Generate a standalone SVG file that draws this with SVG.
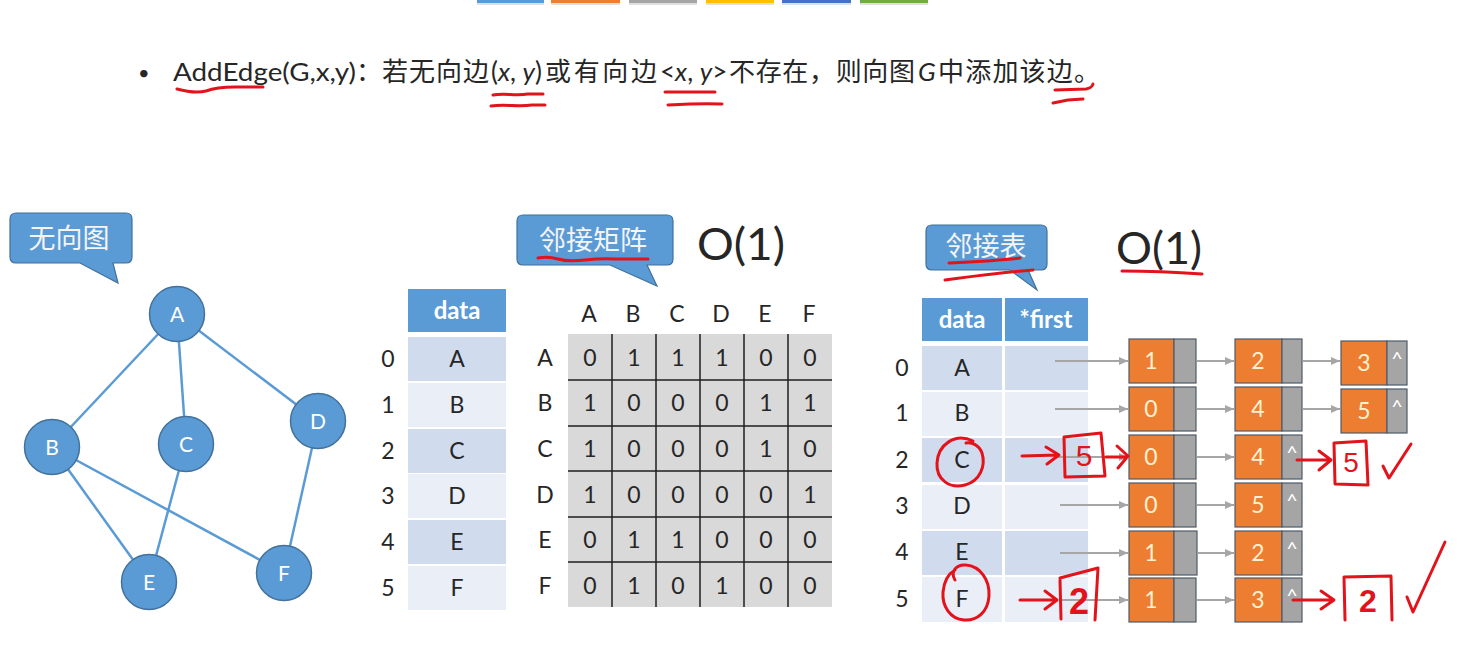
<svg xmlns="http://www.w3.org/2000/svg" width="1467" height="660" viewBox="0 0 1467 660">
  <defs>
    <style>
      .lat { font-family: Lato, "Liberation Sans", "Noto Sans CJK SC", sans-serif; fill: #262626; }
      .cjk { font-family: "Noto Sans CJK SC", "Noto Sans", sans-serif; fill: #262626; }
      .it { font-style: italic; }
      .callout { fill: #5b9bd5; stroke: #41719c; stroke-width: 1.2; }
      .ctext { font-family: "Noto Sans CJK SC", sans-serif; fill: #f4f4f4; font-size: 27px; text-anchor: middle; }
      .gnode circle { fill: #5b9bd5; stroke: #41719c; stroke-width: 1.5; }
      .gnode text { font-family: Lato, "Liberation Sans", sans-serif; fill: #ffffff; font-size: 21px; text-anchor: middle; }
      .edge { stroke: #5b9bd5; stroke-width: 2.5; fill: none; }
      .hdr { fill: #5b9bd5; }
      .hdrtext { font-family: Lato, "Liberation Sans", sans-serif; font-weight: bold; fill: #ffffff; font-size: 24px; text-anchor: middle; }
      .rowA { fill: #d0dcee; }
      .rowB { fill: #e9eef7; }
      .c { text-anchor: middle; font-size: 23px; }
      .grid { stroke: #1e1e1e; stroke-width: 1.5; }
      .ptr { stroke: #a6a6a6; stroke-width: 2; fill: none; marker-end: url(#gh); }
      .val { fill: #ed7d31; stroke: #4d5b6b; stroke-width: 1.2; }
      .nxt { fill: #a5a5a5; stroke: #4d5b6b; stroke-width: 1.2; }
      .ntext { font-family: Lato, "Liberation Sans", sans-serif; fill: #fff2d0; font-size: 23px; text-anchor: middle; }
      .caret { font-family: Lato, "Liberation Sans", sans-serif; fill: #ffffff; font-size: 20px; text-anchor: middle; }
      .ink { fill: none; stroke: #e3131b; stroke-width: 3; stroke-linecap: round; stroke-linejoin: round; }
      .inktext { font-family: "Liberation Sans", sans-serif; fill: #e3131b; text-anchor: middle; }
      .heavy { font-weight: bold; }
    </style>
    <marker id="gh" markerUnits="userSpaceOnUse" markerWidth="10" markerHeight="10" refX="9" refY="5" orient="auto">
      <path d="M0,1 L9,5 L0,9 Z" fill="#a6a6a6"/>
    </marker>
  </defs>

  <rect width="1467" height="660" fill="#ffffff"/>

  <!-- colour tabs along the top edge -->
  <g id="tabs">
    <rect x="477" y="1" width="67" height="4" fill="#000" opacity="0.12"/>
    <rect x="477" y="-2" width="67" height="5" fill="#5b9bd5"/>
    <rect x="551" y="1" width="69" height="4" fill="#000" opacity="0.12"/>
    <rect x="551" y="-2" width="69" height="5" fill="#ed7d31"/>
    <rect x="629" y="1" width="68" height="4" fill="#000" opacity="0.12"/>
    <rect x="629" y="-2" width="68" height="5" fill="#a5a5a5"/>
    <rect x="706" y="1" width="68" height="4" fill="#000" opacity="0.12"/>
    <rect x="706" y="-2" width="68" height="5" fill="#ffc000"/>
    <rect x="782" y="1" width="69" height="4" fill="#000" opacity="0.12"/>
    <rect x="782" y="-2" width="69" height="5" fill="#4472c4"/>
    <rect x="860" y="1" width="68" height="4" fill="#000" opacity="0.12"/>
    <rect x="860" y="-2" width="68" height="5" fill="#70ad47"/>
  </g>

  <!-- bullet line -->
  <g id="heading" font-size="26">
    <text class="lat" x="138" y="80" font-size="20">•</text>
    <text class="lat" x="173" y="81" font-size="25" textLength="183" lengthAdjust="spacingAndGlyphs">AddEdge(G,x,y)</text>
    <text class="cjk" x="356" y="81">：<tspan letter-spacing="1">若无向边</tspan></text>
    <text class="lat" x="491" y="81">(<tspan class="it">x</tspan>, <tspan class="it">y</tspan>)</text>
    <text class="cjk" x="545" y="81" textLength="112" lengthAdjust="spacing">或有向边</text>
    <text class="lat" x="660" y="81">&lt;<tspan class="it">x</tspan>, <tspan class="it">y</tspan>&gt;</text>
    <text class="cjk" x="729" y="81" textLength="186" lengthAdjust="spacing">不存在，则向图</text>
    <text class="lat it" x="918" y="81">G</text>
    <text class="cjk" x="938" y="81" textLength="162" lengthAdjust="spacing">中添加该边。</text>
  </g>

  <!-- undirected graph -->
  <g id="label-graph">
    <path class="callout" d="M16,213 H126 Q132,213 132,219 V257 Q132,263 126,263 H113 L118,283 L80,263 H16 Q10,263 10,257 V219 Q10,213 16,213 Z"/>
    <text class="ctext" x="69" y="248">无向图</text>
  </g>
  <g id="edges">
    <line class="edge" x1="177" y1="314" x2="52" y2="447"/>
    <line class="edge" x1="177" y1="314" x2="186" y2="444"/>
    <line class="edge" x1="177" y1="314" x2="318" y2="421"/>
    <line class="edge" x1="52" y1="447" x2="149" y2="582"/>
    <line class="edge" x1="52" y1="447" x2="284" y2="573"/>
    <line class="edge" x1="186" y1="444" x2="149" y2="582"/>
    <line class="edge" x1="318" y1="421" x2="284" y2="573"/>
  </g>
  <g id="node-A" class="gnode"><circle cx="177" cy="314" r="27.5"/><text x="177" y="322">A</text></g>
  <g id="node-B" class="gnode"><circle cx="52" cy="447" r="27.5"/><text x="52" y="455">B</text></g>
  <g id="node-C" class="gnode"><circle cx="186" cy="444" r="27.5"/><text x="186" y="452">C</text></g>
  <g id="node-D" class="gnode"><circle cx="318" cy="421" r="27.5"/><text x="318" y="429">D</text></g>
  <g id="node-E" class="gnode"><circle cx="149" cy="582" r="27.5"/><text x="149" y="590">E</text></g>
  <g id="node-F" class="gnode"><circle cx="284" cy="573" r="27.5"/><text x="284" y="581">F</text></g>

  <!-- adjacency matrix -->
  <g id="label-matrix">
    <path class="callout" d="M523,215 H667 Q673,215 673,221 V259 Q673,265 667,265 H647 L657,286 L610,265 H523 Q517,265 517,259 V221 Q517,215 523,215 Z"/>
    <text class="ctext" x="593" y="250">邻接矩阵</text>
    <text class="lat" x="697" y="260" font-size="45" textLength="88" lengthAdjust="spacingAndGlyphs">O(1)</text>
  </g>

  <g id="vertex-table">
    <rect class="hdr" x="408" y="289" width="98" height="43"/>
    <text class="hdrtext" x="457" y="319">data</text>
    <rect class="rowA" x="408" y="337" width="98" height="44"/>
    <rect class="rowB" x="408" y="383" width="98" height="44"/>
    <rect class="rowA" x="408" y="429" width="98" height="44"/>
    <rect class="rowB" x="408" y="474" width="98" height="44"/>
    <rect class="rowA" x="408" y="520" width="98" height="44"/>
    <rect class="rowB" x="408" y="566" width="98" height="44"/>
    <g class="lat c">
      <text x="457" y="367">A</text><text x="457" y="413">B</text><text x="457" y="459">C</text>
      <text x="457" y="504">D</text><text x="457" y="550">E</text><text x="457" y="596">F</text>
      <text x="388" y="367">0</text><text x="388" y="413">1</text><text x="388" y="459">2</text>
      <text x="388" y="504">3</text><text x="388" y="550">4</text><text x="388" y="596">5</text>
    </g>
  </g>

  <g id="matrix">
    <rect x="568" y="334" width="264" height="273" fill="#d9d9d9"/>
    <g class="grid">
      <line x1="612" y1="334" x2="612" y2="607"/><line x1="656" y1="334" x2="656" y2="607"/>
      <line x1="700" y1="334" x2="700" y2="607"/><line x1="744" y1="334" x2="744" y2="607"/>
      <line x1="788" y1="334" x2="788" y2="607"/>
      <line x1="568" y1="380" x2="832" y2="380"/><line x1="568" y1="426" x2="832" y2="426"/>
      <line x1="568" y1="471" x2="832" y2="471"/><line x1="568" y1="517" x2="832" y2="517"/>
      <line x1="568" y1="562" x2="832" y2="562"/>
    </g>
    <g class="lat c">
      <text x="589" y="322">A</text><text x="633" y="322">B</text><text x="677" y="322">C</text>
      <text x="721" y="322">D</text><text x="765" y="322">E</text><text x="809" y="322">F</text>
      <text x="545" y="366">A</text><text x="545" y="411">B</text><text x="545" y="457">C</text>
      <text x="545" y="503">D</text><text x="545" y="548">E</text><text x="545" y="594">F</text>
      <text x="590" y="366">0</text><text x="634" y="366">1</text><text x="678" y="366">1</text><text x="722" y="366">1</text><text x="766" y="366">0</text><text x="810" y="366">0</text>
      <text x="590" y="411">1</text><text x="634" y="411">0</text><text x="678" y="411">0</text><text x="722" y="411">0</text><text x="766" y="411">1</text><text x="810" y="411">1</text>
      <text x="590" y="457">1</text><text x="634" y="457">0</text><text x="678" y="457">0</text><text x="722" y="457">0</text><text x="766" y="457">1</text><text x="810" y="457">0</text>
      <text x="590" y="503">1</text><text x="634" y="503">0</text><text x="678" y="503">0</text><text x="722" y="503">0</text><text x="766" y="503">0</text><text x="810" y="503">1</text>
      <text x="590" y="548">0</text><text x="634" y="548">1</text><text x="678" y="548">1</text><text x="722" y="548">0</text><text x="766" y="548">0</text><text x="810" y="548">0</text>
      <text x="590" y="594">0</text><text x="634" y="594">1</text><text x="678" y="594">0</text><text x="722" y="594">1</text><text x="766" y="594">0</text><text x="810" y="594">0</text>
    </g>
  </g>

  <!-- adjacency list -->
  <g id="label-list">
    <path class="callout" d="M932,225 H1041 Q1047,225 1047,231 V264 Q1047,270 1041,270 H1028 L1037,290 L1010,270 H932 Q926,270 926,264 V231 Q926,225 932,225 Z"/>
    <text class="ctext" x="986" y="256">邻接表</text>
    <text class="lat" x="1116" y="264" font-size="45" textLength="86" lengthAdjust="spacingAndGlyphs">O(1)</text>
  </g>

  <g id="head-table">
    <rect class="hdr" x="922" y="298" width="80" height="43"/>
    <rect class="hdr" x="1005" y="298" width="83" height="43"/>
    <text class="hdrtext" x="962" y="328">data</text>
    <text class="hdrtext" x="1046" y="328">*first</text>
    <rect class="rowA" x="922" y="346" width="80" height="44"/><rect class="rowA" x="1005" y="346" width="83" height="44"/>
    <rect class="rowB" x="922" y="392" width="80" height="44"/><rect class="rowB" x="1005" y="392" width="83" height="44"/>
    <rect class="rowA" x="922" y="438" width="80" height="44"/><rect class="rowA" x="1005" y="438" width="83" height="44"/>
    <rect class="rowB" x="922" y="485" width="80" height="44"/><rect class="rowB" x="1005" y="485" width="83" height="44"/>
    <rect class="rowA" x="922" y="531" width="80" height="44"/><rect class="rowA" x="1005" y="531" width="83" height="44"/>
    <rect class="rowB" x="922" y="577" width="80" height="45"/><rect class="rowB" x="1005" y="577" width="83" height="45"/>
    <g class="lat c">
      <text x="962" y="376">A</text><text x="962" y="421">B</text><text x="962" y="468">C</text>
      <text x="962" y="514">D</text><text x="962" y="560">E</text><text x="962" y="607">F</text>
      <text x="902" y="376">0</text><text x="902" y="421">1</text><text x="902" y="468">2</text>
      <text x="902" y="514">3</text><text x="902" y="560">4</text><text x="902" y="607">5</text>
    </g>
  </g>

  <g id="connectors">
    <line class="ptr" x1="1055" y1="361" x2="1128" y2="361"/>
    <line class="ptr" x1="1055" y1="409" x2="1128" y2="409"/>
    <line class="ptr" x1="1055" y1="457" x2="1128" y2="457"/>
    <line class="ptr" x1="1060" y1="505" x2="1128" y2="505"/>
    <line class="ptr" x1="1060" y1="553" x2="1128" y2="553"/>
    <line class="ptr" x1="1060" y1="600" x2="1128" y2="600"/>
    <line class="ptr" x1="1197" y1="361" x2="1234" y2="361"/>
    <line class="ptr" x1="1197" y1="409" x2="1234" y2="409"/>
    <line class="ptr" x1="1197" y1="457" x2="1234" y2="457"/>
    <line class="ptr" x1="1197" y1="505" x2="1234" y2="505"/>
    <line class="ptr" x1="1198" y1="553" x2="1234" y2="553"/>
    <line class="ptr" x1="1197" y1="600" x2="1234" y2="600"/>
    <line class="ptr" x1="1303" y1="361" x2="1340" y2="361"/>
    <line class="ptr" x1="1303" y1="409" x2="1340" y2="409"/>
  </g>

  <!-- edge nodes: [adjvex | next] -->
  <g id="list-0">
    <rect class="val" x="1129" y="339" width="45" height="44"/><rect class="nxt" x="1174" y="339" width="22" height="44"/><text class="ntext" x="1151" y="369">1</text>
    <rect class="val" x="1235" y="339" width="47" height="44"/><rect class="nxt" x="1282" y="339" width="20" height="44"/><text class="ntext" x="1258" y="369">2</text>
    <rect class="val" x="1341" y="341" width="46" height="44"/><rect class="nxt" x="1387" y="341" width="20" height="44"/><text class="ntext" x="1364" y="371">3</text><text class="caret" x="1397" y="366">^</text>
  </g>
  <g id="list-1">
    <rect class="val" x="1129" y="387" width="45" height="44"/><rect class="nxt" x="1174" y="387" width="22" height="44"/><text class="ntext" x="1151" y="417">0</text>
    <rect class="val" x="1235" y="387" width="47" height="44"/><rect class="nxt" x="1282" y="387" width="20" height="44"/><text class="ntext" x="1258" y="417">4</text>
    <rect class="val" x="1341" y="389" width="46" height="44"/><rect class="nxt" x="1387" y="389" width="20" height="44"/><text class="ntext" x="1364" y="419">5</text><text class="caret" x="1397" y="414">^</text>
  </g>
  <g id="list-2">
    <rect class="val" x="1129" y="435" width="45" height="44"/><rect class="nxt" x="1174" y="435" width="22" height="44"/><text class="ntext" x="1151" y="465">0</text>
    <rect class="val" x="1235" y="435" width="47" height="44"/><rect class="nxt" x="1282" y="435" width="20" height="44"/><text class="ntext" x="1258" y="465">4</text><text class="caret" x="1292" y="460">^</text>
  </g>
  <g id="list-3">
    <rect class="val" x="1129" y="483" width="45" height="44"/><rect class="nxt" x="1174" y="483" width="22" height="44"/><text class="ntext" x="1151" y="513">0</text>
    <rect class="val" x="1235" y="483" width="47" height="44"/><rect class="nxt" x="1282" y="483" width="20" height="44"/><text class="ntext" x="1258" y="513">5</text><text class="caret" x="1292" y="508">^</text>
  </g>
  <g id="list-4">
    <rect class="val" x="1129" y="531" width="45" height="44"/><rect class="nxt" x="1174" y="531" width="23" height="44"/><text class="ntext" x="1151" y="561">1</text>
    <rect class="val" x="1235" y="531" width="47" height="44"/><rect class="nxt" x="1282" y="531" width="20" height="44"/><text class="ntext" x="1258" y="561">2</text><text class="caret" x="1292" y="556">^</text>
  </g>
  <g id="list-5">
    <rect class="val" x="1129" y="578" width="45" height="44"/><rect class="nxt" x="1174" y="578" width="22" height="44"/><text class="ntext" x="1151" y="608">1</text>
    <rect class="val" x="1235" y="578" width="47" height="44"/><rect class="nxt" x="1282" y="578" width="20" height="44"/><text class="ntext" x="1258" y="608">3</text><text class="caret" x="1292" y="603">^</text>
  </g>

  <!-- red pen marks -->
  <g id="ink">
    <path class="ink" d="M177,89 C188,92 198,93 206,91 C214,88 224,87 235,87 L263,87"/>
    <path class="ink" d="M493,95 C505,93 515,96 528,94 L543,94"/>
    <path class="ink" d="M491,106 C505,104 518,107 532,105 L545,105"/>
    <path class="ink" d="M665,92 L715,92"/>
    <path class="ink" d="M668,105 C685,104 705,103 722,104"/>
    <path class="ink" d="M1055,90 L1086,89 Q1092,88 1093,84"/>
    <path class="ink" d="M1053,103 L1068,100 L1083,99"/>
    <path class="ink" d="M538,258 Q548,256 558,259 T585,260 T615,259 L648,259"/>
    <path class="ink" d="M949,263 C970,262 995,261 1020,258"/>
    <path class="ink" d="M945,280 C975,276 1005,272 1033,270"/>
    <path class="ink" d="M1122,271 Q1160,271 1202,274"/>
    <!-- C circled, new node 5 put in front -->
    <path class="ink" d="M973,441 C955,432 938,445 937,463 C936,480 950,489 965,485 C980,481 986,466 982,453 C979,445 972,442 966,443"/>
    <path class="ink" d="M1022,456 L1058,455 M1046,447 L1059,455 L1047,464"/>
    <path class="ink" d="M1064,437 L1101,433 L1105,476 L1065,477 Z"/>
    <text class="inktext" x="1084" y="466" font-size="30">5</text>
    <path class="ink" d="M1106,457 L1127,457 M1117,446 L1128,456 L1118,468"/>
    <!-- F circled, new node 2 put in front -->
    <path class="ink" d="M955,580 C950,572 956,564 966,565 C980,566 990,580 989,596 C988,612 977,621 964,620 C950,619 942,606 943,592 C944,582 948,574 955,570"/>
    <path class="ink" d="M1020,600 L1056,600 M1045,591 L1057,600 L1045,609"/>
    <path class="ink" d="M1060,580 L1061,619 M1060,578 L1098,568 L1095,620"/>
    <text class="inktext heavy" x="1079" y="614" font-size="36">2</text>
    <!-- reverse edge appended at the tail -->
    <path class="ink" d="M1297,460 L1330,460 M1319,451 L1331,460 L1319,470"/>
    <path class="ink" d="M1334,443 L1366,441 L1368,485 L1335,484 Z"/>
    <text class="inktext" x="1351" y="472" font-size="28">5</text>
    <path class="ink" d="M1383,466 L1389,478 L1411,444"/>
    <path class="ink" d="M1293,600 L1333,600 M1321,591 L1334,600 L1321,609"/>
    <path class="ink" d="M1344,577 L1391,576 L1392,620 M1344,577 L1345,620"/>
    <text class="inktext heavy" x="1368" y="612" font-size="32">2</text>
    <path class="ink" d="M1407,597 L1413,612 L1445,542"/>
  </g>
</svg>
